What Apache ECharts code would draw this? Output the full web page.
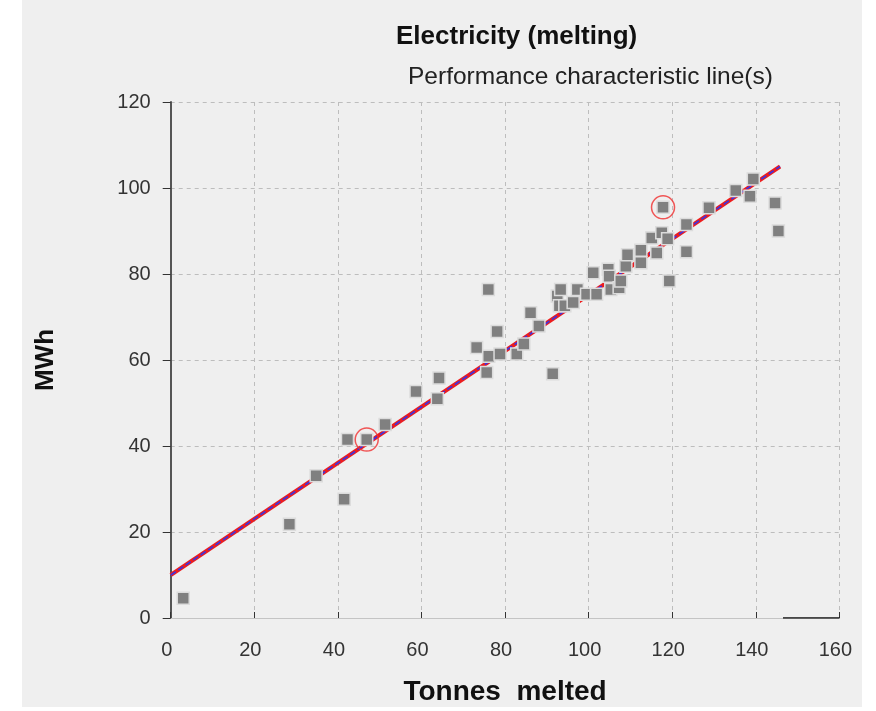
<!DOCTYPE html>
<html>
<head>
<meta charset="utf-8">
<script src="https://cdn.jsdelivr.net/npm/echarts@6/dist/echarts.min.js"></script>
<style>
html,body{margin:0;padding:0;background:#ffffff;}
#chart{width:876px;height:711px;}
</style>
</head>
<body>
<div id="chart"></div>
<script>
// Measured points: tonnes melted (x) and MWh (y)
const tonnes = [3.0, 28.4, 34.8, 41.5, 42.3, 46.9, 51.3, 58.7, 63.8, 64.2, 73.2, 75.6, 76.1, 78.8, 78.1, 76.0, 82.8, 84.5, 88.1, 86.1,
  91.4, 92.5, 93.0, 93.3, 94.3, 96.3, 97.3, 99.5, 101.9, 101.1, 104.7, 104.9, 105.3, 107.3, 107.7, 108.9, 109.3, 112.5, 112.5, 115.1,
  116.3, 117.5, 118.9, 119.3, 117.8, 123.4, 123.4, 128.8, 135.2, 138.6, 139.4, 144.6, 145.4];
const mwh = [4.6, 21.8, 33.1, 27.6, 41.5, 41.5, 45.0, 52.7, 51.0, 55.8, 62.9, 57.1, 60.9, 61.4, 66.6, 76.4, 61.4, 63.7, 67.9, 71.0,
  56.8, 74.9, 72.6, 76.4, 72.6, 73.4, 76.4, 75.3, 75.3, 80.3, 81.1, 79.5, 76.4, 76.8, 78.4, 81.8, 84.5, 82.6, 85.5, 88.4,
  84.9, 89.6, 88.2, 78.4, 95.5, 85.2, 91.5, 95.4, 99.4, 98.1, 102.1, 96.5, 90.0];
// Highlighted (circled) points
const circledX = [46.9, 117.8];
const circledY = [41.5, 95.5];
// Performance characteristic line endpoints
const lineX = [0, 145.8];
const lineY = [10.0, 105.0];
// Dark segment on x axis
const axisSegX = [146.5, 160];
const axisSegY = [0, 0];
// Tick labels
const xTicks = [0, 20, 40, 60, 80, 100, 120, 140, 160];
const yTicks = [0, 20, 40, 60, 80, 100, 120];

const zip = (a, b) => a.map((v, i) => [v, b[i]]);
const chart = echarts.init(document.getElementById('chart'));
const FONT = '"Liberation Sans", Arial, sans-serif';
chart.setOption({
  backgroundColor: '#ffffff',
  animation: false,
  graphic: [{
    type: 'rect', z: -10, silent: true,
    shape: {x: 22, y: 0, width: 840, height: 707},
    style: {fill: '#efefef'}
  }],
  title: [
    {text: 'Electricity (melting)', left: 391, top: 19,
     textStyle: {fontFamily: FONT, fontSize: 26, fontWeight: 'bold', color: '#111'}},
    {text: 'Performance characteristic line(s)', left: 403, top: 60,
     textStyle: {fontFamily: FONT, fontSize: 24.5, fontWeight: 'normal', color: '#222'}}
  ],
  grid: {left: 170.7, right: 36.6, top: 102, bottom: 91, containLabel: false},
  xAxis: {
    type: 'value', min: xTicks[0], max: xTicks[xTicks.length - 1], interval: 20,
    name: 'Tonnes  melted', nameLocation: 'middle', nameGap: 60,
    nameTextStyle: {fontFamily: FONT, fontSize: 28, fontWeight: 'bold', color: '#111'},
    axisLine: {show: true, onZero: false, lineStyle: {color: '#c4c4c4', width: 1}},
    axisTick: {show: true, inside: true, length: 6, lineStyle: {color: '#333'}},
    axisLabel: {fontFamily: FONT, fontSize: 20, color: '#333', margin: 22, padding: [0, 8, 0, 0],
      formatter: v => xTicks.includes(v) ? String(v) : ''},
    splitLine: {show: true, lineStyle: {color: '#bdbdbd', type: [4, 4], width: 1}}
  },
  yAxis: {
    type: 'value', min: yTicks[0], max: yTicks[yTicks.length - 1], interval: 20,
    name: 'MWh', nameLocation: 'middle', nameGap: 112, nameRotate: 90,
    nameTextStyle: {fontFamily: FONT, fontSize: 26, fontWeight: 'bold', color: '#111'},
    axisLine: {show: true, onZero: false, lineStyle: {color: '#555', width: 2}},
    axisTick: {show: true, inside: false, length: 8, lineStyle: {color: '#333'}},
    axisLabel: {fontFamily: FONT, fontSize: 20, color: '#333', margin: 20,
      formatter: v => yTicks.includes(v) ? String(v) : ''},
    splitLine: {show: true, lineStyle: {color: '#bdbdbd', type: [4, 4], width: 1}}
  },
  series: [
    {type: 'line', data: zip(axisSegX, axisSegY), symbol: 'none', silent: true,
     lineStyle: {color: '#111', width: 1.5}, z: 3},
    {type: 'line', data: zip(lineX, lineY), symbol: 'none', silent: true,
     lineStyle: {color: '#ee1c1c', width: 4}, z: 2},
    {type: 'line', data: zip(lineX, lineY), symbol: 'none', silent: true,
     lineStyle: {color: '#4433d8', width: 1.8, type: [6, 3]}, z: 2},
    {type: 'scatter', data: zip(tonnes, mwh), symbol: 'rect', symbolSize: 12,
     itemStyle: {color: '#808080', borderColor: '#dcdcdc', borderWidth: 1.5, opacity: 1}, z: 4},
    {type: 'scatter', data: zip(circledX, circledY), symbol: 'circle', symbolSize: 23,
     itemStyle: {color: 'rgba(0,0,0,0)', borderColor: '#f03030', borderWidth: 1.5}, z: 5}
  ]
});
</script>
</body>
</html>
